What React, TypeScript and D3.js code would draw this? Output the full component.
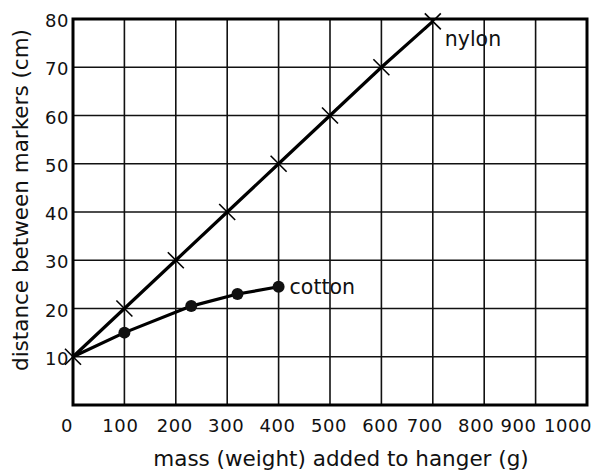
import React from "react";
import * as d3 from "d3";

// Mass added to the hanger (g) and the distance between markers (cm)
const nylonMass = [0, 100, 200, 300, 400, 500, 600, 700];
const nylonDistance = [10, 20, 30, 40, 50, 60, 70, 79.5];
const cottonMass = [0, 100, 230, 320, 400];
const cottonDistance = [10, 15, 20.5, 23, 24.5];

const xTicks = [0, 100, 200, 300, 400, 500, 600, 700, 800, 900, 1000];
const yTicks = [10, 20, 30, 40, 50, 60, 70, 80];
const yGrid = [0, 10, 20, 30, 40, 50, 60, 70, 80];

const W = 603;
const H = 474;
const FONT = "'DejaVu Sans', 'Liberation Sans', sans-serif";

export default function App() {
  const x = d3.scaleLinear().domain([0, 1000]).range([73, 587]);
  const y = d3.scaleLinear().domain([0, 80]).range([405, 19]);

  const line = d3
    .line<[number, number]>()
    .x((d) => x(d[0]))
    .y((d) => y(d[1]));

  const nylon: [number, number][] = nylonMass.map((m, i) => [m, nylonDistance[i]]);
  const cotton: [number, number][] = cottonMass.map((m, i) => [m, cottonDistance[i]]);

  // Tick labels sit a little left of their grid lines; the last two are packed together
  const xLabelPos = (v: number) => {
    if (v === 1000) return x(v) - 19;
    if (v === 900) return x(v) - 17;
    if (v >= 700) return x(v) - 8;
    if (v === 0) return x(v) - 6;
    if (v === 100) return x(v) - 4;
    return x(v) - 1;
  };

  const cross = 8;

  return (
    <svg
      width={W}
      height={H}
      style={{ position: "absolute", left: 0, top: 0, background: "#fff" }}
      fontFamily={FONT}
    >
      <rect width={W} height={H} fill="#fff" />
      {/* grid */}
      {xTicks.map((v) => (
        <line key={"gx" + v} x1={x(v)} x2={x(v)} y1={y(80)} y2={y(0)} stroke="#111" strokeWidth={1.6} />
      ))}
      {yGrid.map((v) => (
        <line key={"gy" + v} x1={x(0)} x2={x(1000)} y1={y(v)} y2={y(v)} stroke="#111" strokeWidth={1.6} />
      ))}
      {/* frame */}
      <rect
        x={x(0)}
        y={y(80)}
        width={x(1000) - x(0)}
        height={y(0) - y(80)}
        fill="none"
        stroke="#000"
        strokeWidth={3}
      />

      {/* series */}
      <path d={line(nylon) || ""} fill="none" stroke="#000" strokeWidth={3.2} strokeLinejoin="round" />
      <path d={line(cotton) || ""} fill="none" stroke="#000" strokeWidth={3.2} strokeLinejoin="round" />

      {nylon.map((d, i) => (
        <g key={"n" + i} stroke="#000" strokeWidth={1.6}>
          <line x1={x(d[0]) - cross} y1={y(d[1]) - cross} x2={x(d[0]) + cross} y2={y(d[1]) + cross} />
          <line x1={x(d[0]) - cross} y1={y(d[1]) + cross} x2={x(d[0]) + cross} y2={y(d[1]) - cross} />
        </g>
      ))}
      {cotton.slice(1).map((d, i) => (
        <circle key={"c" + i} cx={x(d[0])} cy={y(d[1])} r={6} fill="#111" />
      ))}

      {/* series labels */}
      <text x={x(700) + 12} y={y(79.5) + 25} fontSize={20.5} fill="#111">
        nylon
      </text>
      <text x={x(400) + 11} y={y(24.5) + 7} fontSize={20.5} fill="#111">
        cotton
      </text>

      {/* y tick labels */}
      {yTicks.map((v) => (
        <text
          key={"yl" + v}
          x={x(0) - 4}
          y={y(v) + 8}
          fontSize={18}
          letterSpacing={0.6}
          textAnchor="end"
          fill="#111"
        >
          {v}
        </text>
      ))}
      {/* x tick labels */}
      {xTicks.map((v) => (
        <text
          key={"xl" + v}
          x={xLabelPos(v)}
          y={432}
          fontSize={18}
          letterSpacing={0.6}
          textAnchor="middle"
          fill="#111"
        >
          {v}
        </text>
      ))}

      {/* axis titles */}
      <text x={341} y={466} fontSize={21.5} textAnchor="middle" fill="#111">
        mass (weight) added to hanger (g)
      </text>
      <text
        transform={`translate(28, ${200}) rotate(-90)`}
        fontSize={21.5}
        textAnchor="middle"
        fill="#111"
      >
        distance between markers (cm)
      </text>
    </svg>
  );
}
